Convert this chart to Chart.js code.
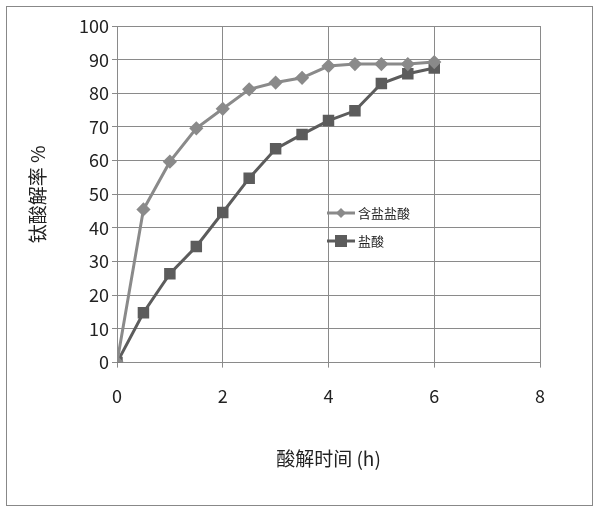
<!DOCTYPE html>
<html><head><meta charset="utf-8">
<script src="https://cdn.jsdelivr.net/npm/chart.js@4.4.0/dist/chart.umd.min.js"></script>
<style>
body{margin:0;background:#fff}
#wrap{position:absolute;left:0;top:0;width:600px;height:514px}
#frame{position:absolute;left:6px;top:6px;width:587px;height:500px;border:1px solid #888;box-sizing:border-box}
</style></head><body>
<div id="wrap"><div id="frame"></div><canvas id="c" width="600" height="514"></canvas></div>
<script>
const xHours = [0, 0.5, 1, 1.5, 2, 2.5, 3, 3.5, 4, 4.5, 5, 5.5, 6];
const mixedAcid = [0, 45.5, 59.7, 69.6, 75.4, 81.2, 83.2, 84.6, 88.1, 88.7, 88.7, 88.7, 89.3];
const hclAcid = [0, 14.8, 26.4, 34.5, 44.6, 54.8, 63.5, 67.8, 71.9, 74.8, 82.9, 85.8, 87.5];
const seriesNames = ["含盐盐酸", "盐酸"];
const font = "'Noto Sans CJK SC', 'Liberation Sans', sans-serif";

const legendPlugin = {
  id: "inLegend",
  afterDraw(chart) {
    const ctx = chart.ctx;
    const items = [
      {name: seriesNames[0], color: "#8a8a8a", style: "rectRot", r: 5, y: 213},
      {name: seriesNames[1], color: "#5c5c5c", style: "rect", r: 6, y: 241}
    ];
    ctx.save();
    items.forEach(it => {
      ctx.strokeStyle = it.color; ctx.lineWidth = 3;
      ctx.beginPath(); ctx.moveTo(327, it.y); ctx.lineTo(355, it.y); ctx.stroke();
      ctx.fillStyle = it.color;
      if (it.style === "rect") ctx.fillRect(341 - it.r, it.y - it.r, it.r * 2, it.r * 2);
      else { ctx.beginPath(); ctx.moveTo(341, it.y - it.r); ctx.lineTo(341 + it.r, it.y); ctx.lineTo(341, it.y + it.r); ctx.lineTo(341 - it.r, it.y); ctx.fill(); }
      ctx.fillStyle = "#222"; ctx.font = "13px " + font; ctx.textBaseline = "middle";
      ctx.fillText(it.name, 358, it.y);
    });
    ctx.restore();
  }
};

new Chart(document.getElementById("c"), {
  type: "line",
  data: {
    datasets: [
      {label: seriesNames[0], data: xHours.map((x, i) => ({x, y: mixedAcid[i]})),
       borderColor: "#8a8a8a", backgroundColor: "#8a8a8a", borderWidth: 3,
       pointStyle: "rectRot", pointRadius: 5, tension: 0},
      {label: seriesNames[1], data: xHours.map((x, i) => ({x, y: hclAcid[i]})),
       borderColor: "#5c5c5c", backgroundColor: "#5c5c5c", borderWidth: 3,
       pointStyle: "rect", pointRadius: 6, tension: 0}
    ]
  },
  options: {
    responsive: false, animation: false,
    layout: {padding: {left: 22, right: 60, top: 26, bottom: 40}},
    plugins: {legend: {display: false}, tooltip: {enabled: false}},
    scales: {
      x: {type: "linear", min: 0, max: 8,
        ticks: {stepSize: 2, padding: 18, color: "#222", font: {size: 18, family: font}},
        grid: {color: "#8a8a8a", drawTicks: true, tickLength: 5},
        border: {color: "#8a8a8a"},
        title: {display: true, text: "酸解时间 (h)", color: "#222", padding: {top: 22}, font: {size: 19, family: font}}},
      y: {min: 0, max: 100,
        ticks: {stepSize: 10, color: "#222", font: {size: 18, family: font}},
        grid: {color: "#8a8a8a", tickLength: 5},
        border: {color: "#8a8a8a"},
        title: {display: true, text: "钛酸解率 %", color: "#222", font: {size: 19, family: font}},
        afterFit(s) { s.width = 95; }}
    }
  },
  plugins: [legendPlugin]
});
</script></body></html>
